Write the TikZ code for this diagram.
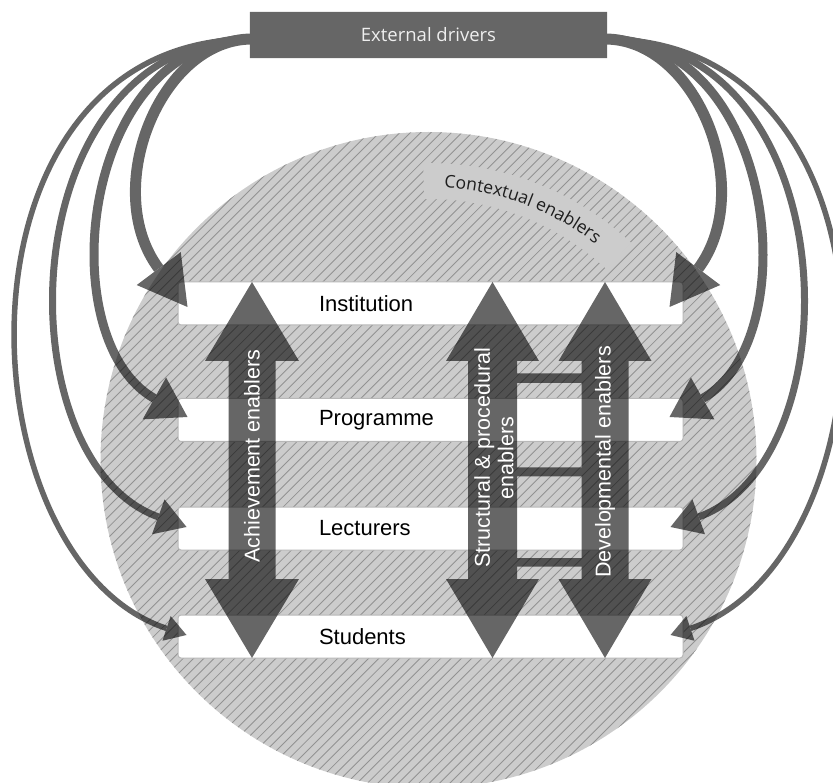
\documentclass[tikz,border=0pt]{standalone}
\usepackage{fontspec}
\setmainfont{Liberation Sans}
\newfontfamily\osans{Open Sans}
\usetikzlibrary{arrows.meta,calc,decorations.text}
\definecolor{bggray}{HTML}{CCCCCC}
\definecolor{hatchgray}{HTML}{929292}
\definecolor{barline}{HTML}{B8B8B8}
\definecolor{ctxtext}{HTML}{1E1E1E}
\definecolor{exttext}{HTML}{EEEEEE}
\tikzset{
  hatchline/.style={draw=hatchgray, line width=0.85pt},
  bar/.style={draw=barline, line width=1pt, fill=white, rounded corners=3pt,
    minimum height=43pt, text width=223pt, inner xsep=141pt, inner ysep=0pt,
    align=left, font=\fontsize{22}{24}\selectfont, text=black},
  vlabel/.style={rotate=90, text=white, align=center, font=\fontsize{21.5}{23.5}\selectfont},
  flow/.style={draw=black},
}
\begin{document}
\begin{tikzpicture}[x=1pt,y=-1pt]
\useasboundingbox (0,0) rectangle (833,783);
\coordinate (C) at (428.5,460);
% circle with hatching
\fill[bggray] (C) circle[radius=328];
\begin{scope}
  \clip (C) circle[radius=328];
  \foreach \i in {0,...,170} \draw[hatchline] ({-720+\i*10.3},820) -- ++(860,-860);
\end{scope}
% unhatched band for contextual enablers
\fill[bggray] ($(C)+(-91:297)$) arc[start angle=-91,end angle=-47,radius=297]
  -- ($(C)+(-47:261)$) arc[start angle=-47,end angle=-91,radius=261] -- cycle;
\path[decorate, decoration={text along path, text align=center, text color=ctxtext,
  text={|\osans\fontsize{17.5}{20}\selectfont|Contextual enablers}}]
  ($(C)+(-92.5:273)$) arc[start angle=-92.5,end angle=-46.5,radius=273];
% level bars
\node[bar] (inst) at (430.5,303.5) {Institution};
\node[bar] (prog) at (430.5,420) {Programme};
\node[bar] (lect) at (430.5,528.5) {Lecturers};
\node[bar] (stud) at (430.5,636.5) {Students};
% external drivers box (placeholder for geometry)
\node[minimum width=357pt, minimum height=46pt, inner sep=0pt] (ext) at (428.5,35) {};
\coordinate (extL) at (252,39);
\coordinate (extR) at (605,39);
\coordinate (iL) at ($(inst.west)+(10,3.5)$);
\coordinate (pL) at ($(prog.west)+(10,-3)$);
\coordinate (lL) at ($(lect.west)+(9,-1.5)$);
\coordinate (sL) at ($(stud.west)+(9,-1.5)$);
\coordinate (iR) at ($(inst.east)+(-14,3.5)$);
\coordinate (pR) at ($(prog.east)+(-14,-3)$);
\coordinate (lR) at ($(lect.east)+(-13,-1.5)$);
\coordinate (sR) at ($(stud.east)+(-13,-1.5)$);
\begin{scope}[transparency group, opacity=0.6]
  \fill[black] (ext.south west) rectangle (ext.north east);
  % left curved arrows
  \draw[flow, line width=11pt, -{Triangle[length=48pt,width=55pt,line width=0pt]}]
    (extL) .. controls (160,39) and (100,190) .. (iL);
  \draw[flow, line width=9pt, -{Triangle[length=38pt,width=48pt,line width=0pt]}]
    (extL) .. controls (80,39) and (50,340) .. (pL);
  \draw[flow, line width=7pt, -{Triangle[length=30pt,width=37pt,line width=0pt]}]
    (extL) .. controls (10,39) and (0,460) .. (lL);
  \draw[flow, line width=5.5pt, -{Triangle[length=21pt,width=26pt,line width=0pt]}]
    (extL) .. controls (-60,39) and (-40,560) .. (sL);
  % right curved arrows
  \draw[flow, line width=11pt, -{Triangle[length=48pt,width=55pt,line width=0pt]}]
    (extR) .. controls (697,39) and (757,190) .. (iR);
  \draw[flow, line width=9pt, -{Triangle[length=38pt,width=48pt,line width=0pt]}]
    (extR) .. controls (777,39) and (807,340) .. (pR);
  \draw[flow, line width=7pt, -{Triangle[length=30pt,width=37pt,line width=0pt]}]
    (extR) .. controls (847,39) and (857,460) .. (lR);
  \draw[flow, line width=5.5pt, -{Triangle[length=21pt,width=26pt,line width=0pt]}]
    (extR) .. controls (917,39) and (897,560) .. (sR);
  % vertical double arrows
  \foreach \cx/\sw/\hw in {252/23.5/47, 492.5/24.5/46.5, 605/23.5/46.5}{
    \fill[black] (\cx,282) -- ({\cx+\hw},361) -- ({\cx+\sw},361) -- ({\cx+\sw},579)
      -- ({\cx+\hw},579) -- (\cx,658) -- ({\cx-\hw},579) -- ({\cx-\sw},579)
      -- ({\cx-\sw},361) -- ({\cx-\hw},361) -- cycle;
  }
  % rungs
  \fill[black] (516,373.5) rectangle (582.5,383);
  \fill[black] (516,467.5) rectangle (582.5,476.5);
  \fill[black] (516,558) rectangle (582.5,566.5);
\end{scope}
\node[text=exttext, font=\osans\fontsize{18.5}{20}\selectfont] (extT) at (ext) {External drivers};
\node[vlabel] (ach) at (252,456) {Achievement enablers};
\node[vlabel] (str) at (494,458) {Structural \& procedural\\enablers};
\node[vlabel] (dev) at (605,462) {Developmental enablers};
\end{tikzpicture}
\end{document}
